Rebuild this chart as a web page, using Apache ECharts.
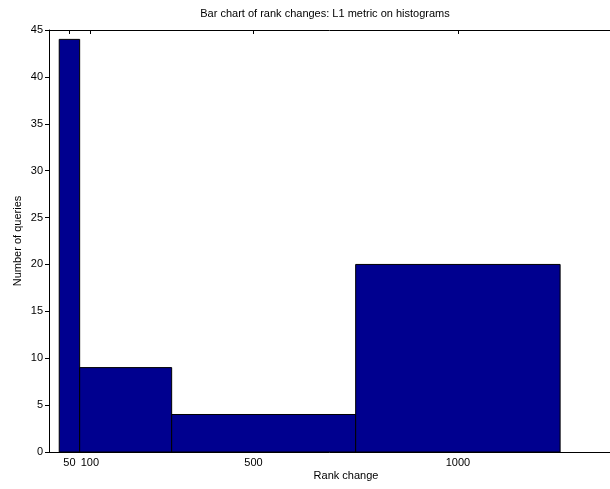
<!DOCTYPE html>
<html>
<head>
<meta charset="utf-8">
<script src="https://cdn.jsdelivr.net/npm/echarts@6/dist/echarts.min.js"></script>
<style>
  html, body { margin: 0; padding: 0; background: #fff; }
  #chart { width: 610px; height: 489px; }
</style>
</head>
<body>
<div id="chart"></div>
<script>
// Rank-change bins (left/right edges) and how many queries fall in each
const binStart = [25, 75, 300, 750];
const binEnd = [75, 300, 750, 1250];
const queryCounts = [44, 9, 4, 20];

// Tick positions shown on the rank-change axis
const xTicks = [50, 100, 500, 1000];

// Visible end of the rank-change axis (the frame runs to the right edge)
const xMax = 1372;

const font = '"Liberation Sans", Arial, Helvetica, sans-serif';
const barData = queryCounts.map((c, i) => [binStart[i], binEnd[i], c]);

const chart = echarts.init(document.getElementById('chart'));

chart.setOption({
  animation: false,
  backgroundColor: '#fff',
  title: [
    {
      text: 'Bar chart of rank changes: L1 metric on histograms',
      left: 320, top: 3, textAlign: 'center',
      textStyle: { fontFamily: font, fontSize: 11, fontWeight: 'normal', color: '#000' }
    },
    {
      text: 'Rank change',
      left: 341, top: 465, textAlign: 'center',
      textStyle: { fontFamily: font, fontSize: 11, fontWeight: 'normal', color: '#000' }
    }
  ],
  grid: { left: 49, top: 30, bottom: 37, right: 0 },
  xAxis: [
    {
      type: 'value', position: 'bottom', min: 0, max: xMax,
      splitLine: { show: false },
      axisLine: { show: true, lineStyle: { color: '#000', width: 1 } },
      axisTick: { show: true, inside: true, length: 4, customValues: xTicks, lineStyle: { color: '#000' } },
      axisLabel: {
        customValues: xTicks, color: '#000', fontFamily: font, fontSize: 11, margin: 5,
        formatter: v => String(v)
      }
    },
    {
      type: 'value', position: 'top', min: 0, max: xMax,
      splitLine: { show: false },
      axisLine: { show: true, lineStyle: { color: '#000', width: 1 } },
      axisTick: { show: true, inside: true, length: 4, customValues: xTicks, lineStyle: { color: '#000' } },
      axisLabel: { show: false }
    }
  ],
  yAxis: {
    type: 'value', min: 0, max: 45, interval: 5,
    name: 'Number of queries', nameLocation: 'middle', nameGap: 26,
    nameMoveOverlap: false,
    nameTextStyle: { fontFamily: font, fontSize: 11, color: '#000' },
    splitLine: { show: false },
    axisLine: { show: true, lineStyle: { color: '#000', width: 1 } },
    axisTick: { show: true, inside: false, length: 4, lineStyle: { color: '#000' } },
    axisLabel: { color: '#000', fontFamily: font, fontSize: 11, margin: 6 }
  },
  series: [{
    type: 'custom',
    xAxisIndex: 0,
    data: barData,
    encode: { x: [0, 1], y: 2 },
    renderItem: function (params, api) {
      const p0 = api.coord([api.value(0), api.value(2)]);
      const p1 = api.coord([api.value(1), 0]);
      return {
        type: 'rect',
        shape: { x: p0[0], y: p0[1], width: p1[0] - p0[0], height: p1[1] - p0[1] },
        style: { fill: '#00008F', stroke: '#000', lineWidth: 1 }
      };
    }
  }]
});
</script>
</body>
</html>
